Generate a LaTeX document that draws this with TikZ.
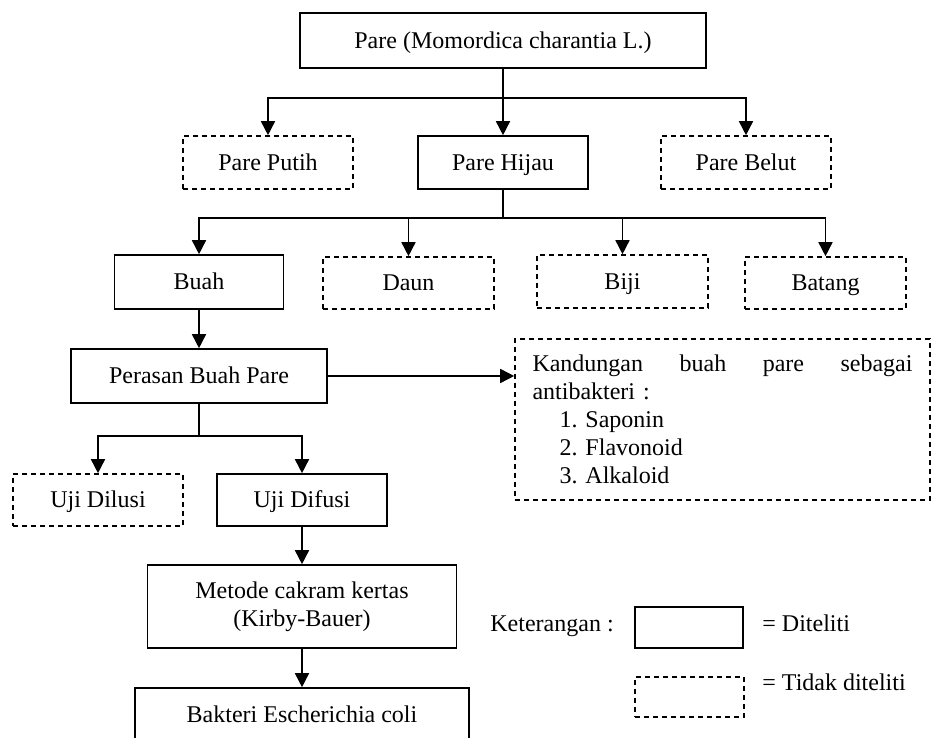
\documentclass[tikz,border=0pt]{standalone}
\usepackage{fontspec}
\setmainfont{Liberation Serif}
\usetikzlibrary{arrows.meta}

\begin{document}
\begin{tikzpicture}[x=0.5pt,y=-0.5pt,
  every node/.style={font=\fontsize{12}{14}\selectfont,inner sep=0pt},
  kotakbesar/.style={draw,line width=0.8pt,align=center},
  kotak/.style={kotakbesar,text height=9pt,text depth=1pt},
  kotakputus/.style={kotak,dash pattern=on 2.5pt off 2pt},
  garis/.style={line width=0.8pt},
  panah/.style={line width=0.8pt,-{Triangle[length=7pt,width=7pt]}}]
  % Batas gambar
  \useasboundingbox (0,0) rectangle (934,738);
  \frenchspacing

  % Kotak paling atas
  \node[kotak,minimum width=203pt,minimum height=27.5pt] (pare) at (503,40.5) {Pare (Momordica charantia L.)};

  % Jenis pare
  \node[kotakputus,minimum width=85pt,minimum height=26.5pt] (putih) at (268,162.5) {Pare Putih};
  \node[kotak,minimum width=85pt,minimum height=26.5pt] (hijau) at (503,162.5) {Pare Hijau};
  \node[kotakputus,minimum width=85pt,minimum height=26.5pt] (belut) at (746,162.5) {Pare Belut};
  \coordinate (cab1) at (503,98);
  \draw[garis] (pare) -- (cab1);
  \draw[panah] (cab1) -| (putih.north);
  \draw[panah] (cab1) -- (hijau.north);
  \draw[panah] (cab1) -| (belut.north);

  % Bagian tanaman
  \node[kotak,minimum width=84.5pt,minimum height=27pt] (buah) at (199,282) {Buah};
  \node[kotakputus,minimum width=85.5pt,minimum height=26pt] (daun) at (408.5,283) {Daun};
  \node[kotakputus,minimum width=85.5pt,minimum height=26.5pt] (biji) at (622.5,281.5) {Biji};
  \node[kotakputus,minimum width=80.5pt,minimum height=26pt] (batang) at (825.5,283) {Batang};
  \coordinate (cab2) at (503,218);
  \draw[garis] (hijau) -- (cab2);
  \draw[panah] (cab2) -| (buah.north);
  \draw[panah] (cab2) -| (daun.north);
  \draw[panah] (cab2) -| (biji.north);
  \draw[panah] (cab2) -| (batang.north);

  % Perasan dan kandungan
  \node[kotak,minimum width=128pt,minimum height=27pt] (perasan) at (199,376) {Perasan Buah Pare};
  \node[kotakbesar,dash pattern=on 2.5pt off 2pt,minimum width=207.5pt,minimum height=80.5pt,text width=190pt,align=left] (kandungan) at (722.5,419.5)
    {Kandungan\hfill buah\hfill pare\hfill sebagai\\
     antibakteri :\\
     \hspace*{13.5pt}1. Saponin\\
     \hspace*{13.5pt}2. Flavonoid\\
     \hspace*{13.5pt}3. Alkaloid};
  \draw[panah] (buah) -- (perasan);
  \draw[panah] (perasan.east) -- (perasan.east -| kandungan.west);

  % Uji
  \node[kotakputus,minimum width=85pt,minimum height=26pt] (dilusi) at (98,500) {Uji Dilusi};
  \node[kotak,minimum width=85pt,minimum height=26pt] (difusi) at (302,500) {Uji Difusi};
  \coordinate (cab3) at (199,436);
  \draw[garis] (perasan) -- (cab3);
  \draw[panah] (cab3) -| (dilusi.north);
  \draw[panah] (cab3) -| (difusi.north);

  % Metode dan bakteri
  \node[kotakbesar,minimum width=154.5pt,minimum height=41.5pt] (metode) at (302,606.5) {Metode cakram kertas\\(Kirby-Bauer)};
  \node[kotak,minimum width=167pt,minimum height=27pt] (bakteri) at (302,715) {Bakteri Escherichia coli};
  \draw[panah] (difusi) -- (metode);
  \draw[panah] (metode) -- (bakteri);

  % Keterangan
  \node[anchor=base west] (ket) at (490,632) {Keterangan :};
  \node[kotak,minimum width=54pt,minimum height=20.5pt] (lgditeliti) at (689,627.5) {};
  \node[anchor=base west] (txditeliti) at (762,632) {= Diteliti};
  \node[kotakputus,minimum width=54.5pt,minimum height=20pt] (lgtidak) at (689.5,697) {};
  \node[anchor=base west] (txtidak) at (762,690) {= Tidak diteliti};
\end{tikzpicture}
\end{document}
